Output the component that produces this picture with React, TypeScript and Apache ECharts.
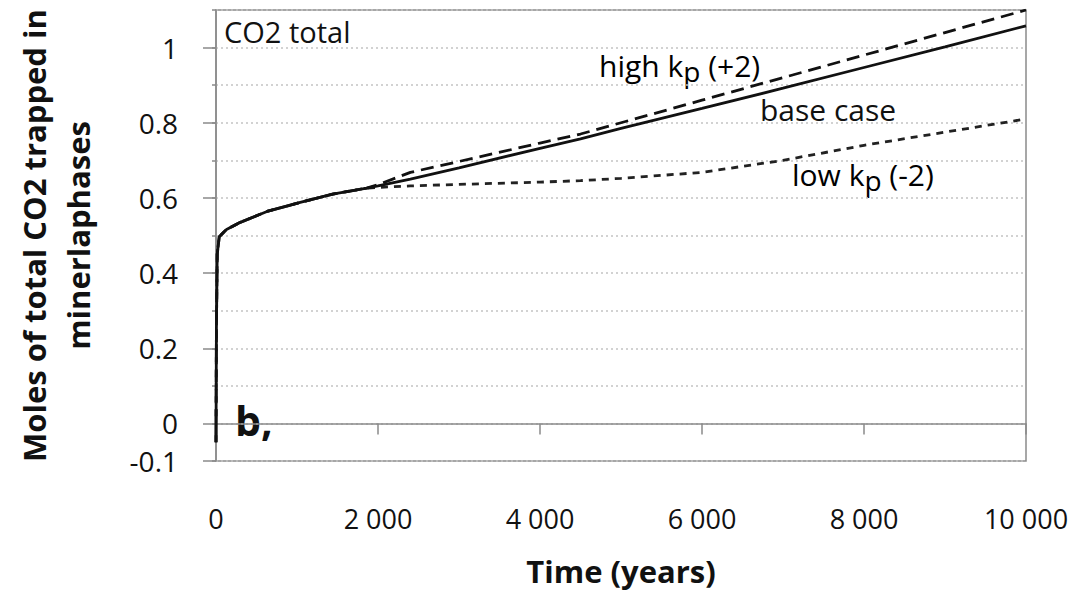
import React, { useEffect, useRef } from "react";
import * as echarts from "echarts";

// Shared early part of all three runs (years, moles)
const commonTime = [0, 5, 15, 40, 130, 300, 630, 1040, 1440, 1860];
const commonVals = [-0.05, 0.25, 0.45, 0.497, 0.516, 0.535, 0.564, 0.588, 0.61, 0.626];

// Later part where the runs diverge
const laterTime = [2000, 2400, 3000, 4000, 4500, 5000, 6000, 7000, 8000, 9000, 10000];
const baseVals = [0.632, 0.65, 0.68, 0.732, 0.757, 0.785, 0.838, 0.892, 0.947, 1.002, 1.058];
const highVals = [0.635, 0.668, 0.697, 0.746, 0.77, 0.8, 0.86, 0.92, 0.98, 1.04, 1.1];
const lowVals = [0.628, 0.632, 0.636, 0.642, 0.646, 0.652, 0.668, 0.7, 0.74, 0.775, 0.81];

const yLabelValues = [-0.1, 0, 0.2, 0.4, 0.6, 0.8, 1];
const xTickStep = 2000;

const FONT = "Open Sans";
const INK = "#111111";

function build(later: number[]) {
  const pts: number[][] = [];
  commonTime.forEach((t, i) => pts.push([t, commonVals[i]]));
  laterTime.forEach((t, i) => pts.push([t, later[i]]));
  return pts;
}

export default function App() {
  const ref = useRef<HTMLDivElement>(null);
  useEffect(() => {
    document.body.style.margin = "0";
    const chart = echarts.init(ref.current!, undefined, { renderer: "svg" });
    const axisGray = "#8a8a8a";
    chart.setOption({
      animation: false,
      backgroundColor: "#ffffff",
      grid: {
        left: 216,
        right: 50,
        top: 10,
        bottom: 130,
        show: true,
        borderColor: axisGray,
        borderWidth: 1.5,
      },
      xAxis: {
        type: "value",
        min: 0,
        max: 10000,
        interval: xTickStep,
        axisLine: { show: true, lineStyle: { color: axisGray, width: 1.5 } },
        axisTick: { show: true, length: 11, lineStyle: { color: axisGray, width: 1.5 } },
        axisLabel: {
          margin: 44,
          fontFamily: FONT,
          fontSize: 27,
          color: INK,
          formatter: (v: number) => String(v).replace(/\B(?=(\d{3})+(?!\d))/g, " "),
        },
        splitLine: { show: false },
        name: "Time (years)",
        nameLocation: "middle",
        nameGap: 94,
        nameTextStyle: { fontFamily: FONT, fontSize: 31, fontWeight: "bold", color: INK },
      },
      yAxis: [
        {
          type: "value",
          min: -0.1,
          max: 1.1,
          interval: 0.1,
          position: "left",
          axisLine: { show: true, lineStyle: { color: axisGray, width: 1.5 } },
          axisTick: { show: true, length: 4, lineStyle: { color: axisGray, width: 1.5 } },
          axisLabel: { show: false },
          splitLine: { show: true, lineStyle: { color: "#c4c4c4", width: 1.5, type: [2, 3] } },
          name: "Moles of total CO2 trapped in\nminerlaphases",
          nameLocation: "middle",
          nameGap: 116,
          nameTextStyle: {
            fontFamily: FONT,
            fontSize: 31,
            fontWeight: "bold",
            color: INK,
            lineHeight: 44,
          },
        },
        {
          type: "value",
          min: -0.1,
          max: 1.1,
          interval: 0.1,
          position: "left",
          axisLine: { show: false },
          axisTick: {
            show: true,
            length: 13,
            customValues: yLabelValues,
            lineStyle: { color: axisGray, width: 1.5 },
          },
          axisLabel: {
            customValues: yLabelValues,
            margin: 38,
            fontFamily: FONT,
            fontSize: 28,
            color: INK,
            formatter: (v: number) => String(+v.toFixed(1)),
          },
          splitLine: { show: false },
        },
      ],
      series: [
        {
          name: "base case",
          type: "line",
          data: build(baseVals),
          showSymbol: false,
          smooth: false,
          lineStyle: { color: "#111111", width: 2.8, type: "solid" },
          z: 3,
        },
        {
          name: "high kp (+2)",
          type: "line",
          data: build(highVals),
          showSymbol: false,
          smooth: false,
          lineStyle: { color: "#111111", width: 2.8, type: [13, 7] },
          z: 2,
        },
        {
          name: "low kp (-2)",
          type: "line",
          data: build(lowVals),
          showSymbol: false,
          smooth: false,
          lineStyle: { color: "#222222", width: 2.8, type: [7, 6] },
          z: 2,
        },
      ],
      graphic: [
        {
          type: "text",
          left: 224,
          top: 17,
          style: { text: "CO2 total", font: `normal 29px ${FONT}`, fill: INK },
        },
        {
          type: "text",
          left: 235,
          top: 399,
          style: { text: "b,", font: `bold 41px ${FONT}`, fill: INK },
        },
        {
          type: "text",
          left: 599,
          top: 50,
          style: {
            text: "{a|high k}{s|p}{a| (+2)}",
            rich: {
              a: { fontFamily: FONT, fontSize: 30, color: INK },
              s: { fontFamily: FONT, fontSize: 28, color: INK, padding: [12, 0, 0, 0] },
            },
          },
        },
        {
          type: "text",
          left: 760,
          top: 94,
          style: { text: "base case", font: `normal 30px ${FONT}`, fill: INK },
        },
        {
          type: "text",
          left: 792,
          top: 159,
          style: {
            text: "{a|low k}{s|p}{a| (-2)}",
            rich: {
              a: { fontFamily: FONT, fontSize: 30, color: INK },
              s: { fontFamily: FONT, fontSize: 28, color: INK, padding: [12, 0, 0, 0] },
            },
          },
        },
      ],
    });
    return () => chart.dispose();
  }, []);
  return <div ref={ref} style={{ width: 1076, height: 591 }} />;
}
